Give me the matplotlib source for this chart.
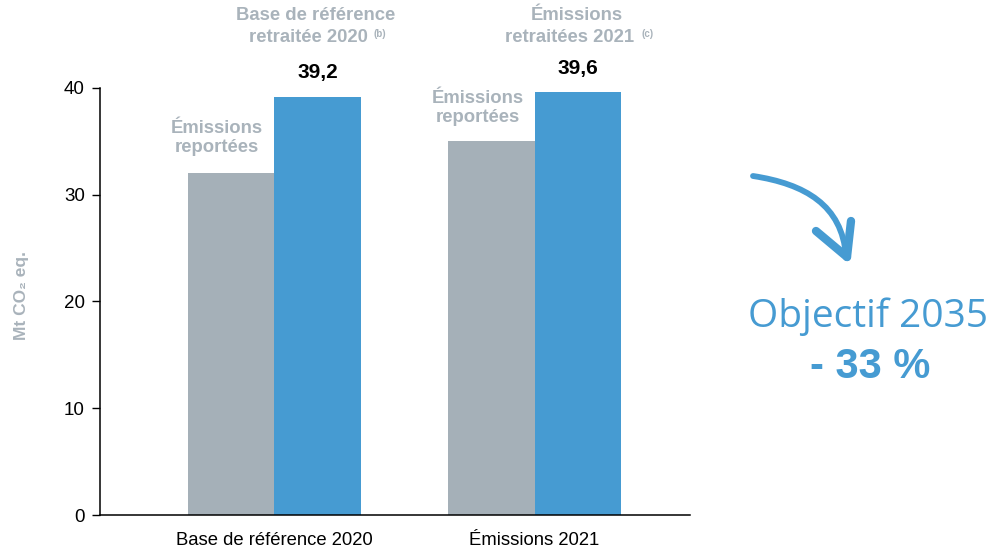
import matplotlib
matplotlib.use("Agg")
import matplotlib.pyplot as plt
from matplotlib.path import Path
from matplotlib.patches import PathPatch
from matplotlib.lines import Line2D

categories = ["Base de référence 2020", "Émissions 2021"]
reported = [32.0, 35.0]
restated = [39.2, 39.6]
restated_labels = ["39,2", "39,6"]
yticks = [0, 10, 20, 30, 40]

GRAY = "#a5b0b8"
BLUE = "#469bd2"
TXTGRAY = "#a9b3bb"

plt.rcParams["font.family"] = ["Liberation Sans", "DejaVu Sans"]

W, H = 993, 551
fig = plt.figure(figsize=(W / 100, H / 100), dpi=100)
ax = fig.add_axes([100 / W, 1 - 515 / H, 590 / W, (515 - 88) / H])

x = list(range(len(categories)))
bw = 0.333
ax.bar([i - bw / 2 for i in x], reported, width=bw, color=GRAY)
ax.bar([i + bw / 2 for i in x], restated, width=bw, color=BLUE)

ax.set_xlim(-0.671, 1.598)
ax.set_ylim(0, 40)
ax.set_yticks(yticks)
ax.set_xticks(x)
ax.set_xticklabels(categories, fontsize=13.3)
ax.tick_params(axis="x", length=0, pad=12)
ax.tick_params(axis="y", length=6, width=1, labelsize=13.5, pad=5)
for s in ["top", "right"]:
    ax.spines[s].set_visible(False)
for s in ["left", "bottom"]:
    ax.spines[s].set_linewidth(1.1)

# value labels
for i, v in enumerate(restated):
    ax.annotate(restated_labels[i], (i + bw / 2, v), xytext=(0, 17), textcoords="offset points",
                ha="center", va="center", fontsize=15, fontweight="bold", color="black")

def px(xp, yp):
    return xp / W, 1 - yp / H

# "Émissions reportées" labels
for (cx, cy) in [(217, 138), (478, 108)]:
    fig.text(*px(cx, cy), "Émissions\nreportées", ha="center", va="center", fontsize=13.3,
             fontweight="bold", color=TXTGRAY, linespacing=1.15)

# top labels
fig.text(*px(316, 16), "Base de référence", ha="center", va="center", fontsize=13.3,
         fontweight="bold", color=TXTGRAY)
fig.text(*px(308, 37), "retraitée 2020", ha="center", va="center", fontsize=13.3,
         fontweight="bold", color=TXTGRAY)
fig.text(*px(374, 34), "(b)", ha="left", va="center", fontsize=7,
         fontweight="bold", color=TXTGRAY)

fig.text(*px(577, 16), "Émissions", ha="center", va="center", fontsize=13.3,
         fontweight="bold", color=TXTGRAY)
fig.text(*px(570, 37), "retraitées 2021", ha="center", va="center", fontsize=13.3,
         fontweight="bold", color=TXTGRAY)
fig.text(*px(641, 34), "(c)", ha="left", va="center", fontsize=7,
         fontweight="bold", color=TXTGRAY)

# y label
fig.text(*px(22, 295), "Mt CO₂ eq.", rotation=90, ha="center", va="center", fontsize=12.5,
         fontweight="bold", color=TXTGRAY)

# curved arrow (hand-drawn style)
p0, c1, c2, p3 = px(753, 176), px(805, 184), px(842, 205), px(846, 256)
shaft = Path([p0, c1, c2, p3], [Path.MOVETO, Path.CURVE4, Path.CURVE4, Path.CURVE4])
fig.patches.append(PathPatch(shaft, transform=fig.transFigure, fill=False,
                             edgecolor=BLUE, lw=4.2, capstyle="round"))
for a in [px(816, 231), px(851, 221)]:
    fig.lines.append(Line2D([a[0], px(847, 257)[0]], [a[1], px(847, 257)[1]],
                            transform=fig.transFigure, color=BLUE, lw=6,
                            solid_capstyle="round"))

fig.text(*px(868, 317), "Objectif 2035", ha="center", va="center", fontsize=28,
         color=BLUE, family=["Open Sans", "DejaVu Sans"])
fig.text(*px(870, 367), "- 33 %", ha="center", va="center", fontsize=30,
         fontweight="bold", color=BLUE)

fig.savefig("out.png", dpi=100)
